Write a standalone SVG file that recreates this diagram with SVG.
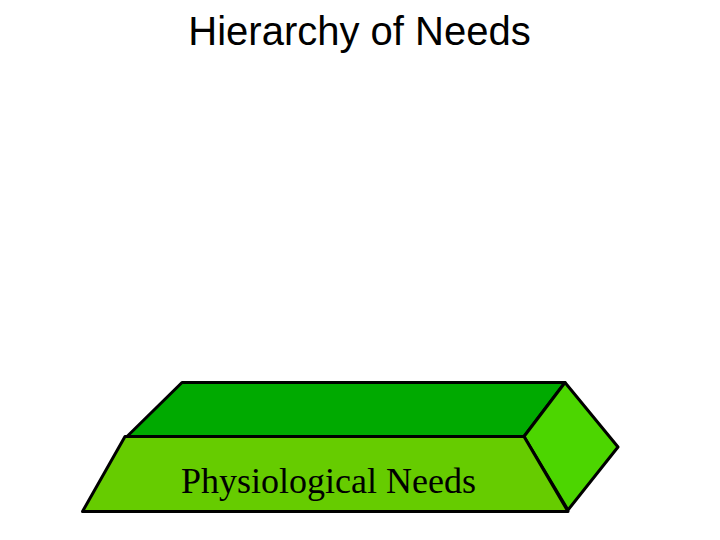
<svg xmlns="http://www.w3.org/2000/svg" width="720" height="540" viewBox="0 0 720 540">
<style>
.edge{stroke:#000;stroke-width:3;stroke-linejoin:round}
.title{font-family:"Liberation Sans",Arial,sans-serif;font-size:40px;fill:#000}
.label{font-family:"Liberation Serif","Times New Roman",serif;font-size:36px;fill:#000}
</style>
<rect width="720" height="540" fill="#fff"/>
<text class="title" x="359.5" y="45" text-anchor="middle">Hierarchy of Needs</text>
<g id="physiological">
<polygon class="edge" points="182,382.5 565,382.5 524,436.5 127,436.5" fill="#00aa00"/>
<polygon class="edge" points="565,382.5 618,447 568,510 524,436.5" fill="#4cd600"/>
<polygon class="edge" points="125,436.5 524,436.5 568,511.5 82.5,511.5" fill="#66cc00"/>
<text class="label" x="181" y="493">Physiological Needs</text>
</g>
<g id="connectors"/>
</svg>
